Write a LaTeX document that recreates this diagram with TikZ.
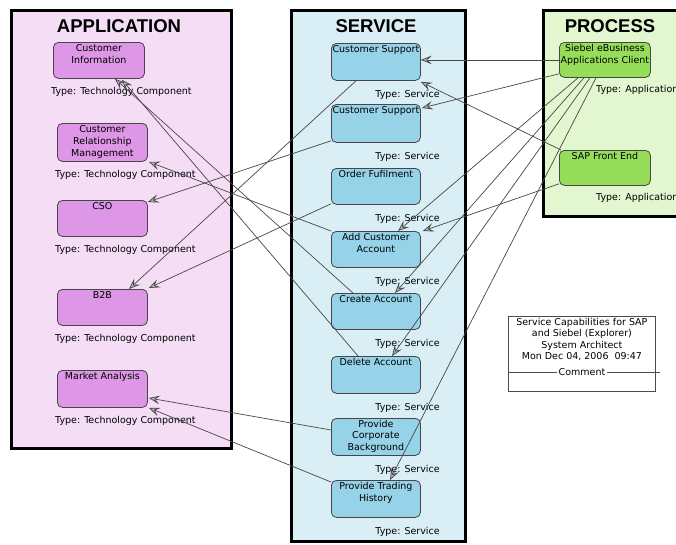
\documentclass[tikz,border=0pt]{standalone}
\usepackage{fontspec}
\setmainfont{DejaVu Sans}
\newfontfamily\titlefont{Liberation Sans}
\usetikzlibrary{arrows.meta,calc}
\definecolor{apppanel}{RGB}{245,221,245}
\definecolor{appnode}{RGB}{222,150,230}
\definecolor{srvpanel}{RGB}{218,238,246}
\definecolor{srvnode}{RGB}{150,210,232}
\definecolor{prcpanel}{RGB}{226,246,208}
\definecolor{prcnode}{RGB}{150,222,90}
\definecolor{nodeedge}{RGB}{70,70,70}
\tikzset{
  panel/.style={draw=black, line width=3pt},
  ttl/.style={font=\titlefont\bfseries\fontsize{18.5}{20}\selectfont},
  small/.style={font=\fontsize{9.5}{12}\selectfont},
  intext/.style={small, anchor=north, align=center, inner sep=0pt, yshift=-2pt},
  box/.style={draw=nodeedge, line width=0.8pt, rounded corners=5pt, anchor=north west, inner sep=0pt},
  appbox/.style={box, fill=appnode, minimum width=90pt},
  srvbox/.style={box, fill=srvnode, minimum width=89pt},
  prcbox/.style={box, fill=prcnode, minimum width=91pt},
  typelbl/.style={small, inner sep=0pt},
  conn/.style={draw=black!72, line width=0.7pt, -{Stealth[length=11pt, width=8.5pt, inset=4.5pt, fill=gray!60, line width=0.7pt]}},
}
\begin{document}
\begin{tikzpicture}[x=1pt,y=-1pt]
\path[use as bounding box, clip] (0,0) rectangle (676,544);
\fill[white] (0,0) rectangle (676,544);
% panels
\draw[panel, fill=apppanel] (11,10) rectangle (231,448);
\draw[panel, fill=srvpanel] (291,10) rectangle (465,541.5);
\draw[panel, fill=prcpanel] (543,10) rectangle (690,216);
\node[ttl] (tapp) at (119,26.5) {APPLICATION};
\node[ttl] (tsrv) at (376,26.5) {SERVICE};
\node[ttl] (tprc) at (610,26.5) {PROCESS};
% application nodes
\node[appbox, minimum width=91pt, minimum height=36pt, label={[intext]north:Customer\\Information}] (ci) at (53,42) {};
\node[appbox, minimum height=38pt, label={[intext]north:Customer\\Relationship\\Management}] (crm) at (57,123) {};
\node[appbox, minimum height=36pt, label={[intext]north:CSO}] (cso) at (57,200) {};
\node[appbox, minimum height=36pt, label={[intext]north:B2B}] (b2b) at (57,289) {};
\node[appbox, minimum height=37pt, label={[intext]north:Market Analysis}] (ma) at (57,370) {};
\foreach \n in {ci,crm,cso,b2b,ma}
  \node[typelbl, anchor=west] (t\n) at ($(\n.south west)+(-2,13.5)$) {Type: Technology\ Component};
% service nodes
\node[srvbox, minimum height=37pt, label={[intext]north:Customer Support}] (cs1) at (331,43) {};
\node[srvbox, minimum height=38pt, label={[intext]north:Customer Support}] (cs2) at (331,104) {};
\node[srvbox, minimum height=36pt, label={[intext]north:Order Fufilment}] (of) at (331,168) {};
\node[srvbox, minimum height=36pt, label={[intext]north:Add Customer\\Account}] (aca) at (331,231) {};
\node[srvbox, minimum height=36pt, label={[intext]north:Create Account}] (ca) at (331,293) {};
\node[srvbox, minimum height=37pt, label={[intext]north:Delete Account}] (da) at (331,356) {};
\node[srvbox, minimum height=37pt, label={[intext, font=\fontsize{9.5}{11.5}\selectfont]north:Provide\\Corporate\\Background}] (pcb) at (331,418) {};
\node[srvbox, minimum height=37pt, label={[intext]north:Provide Trading\\History}] (pth) at (331,480) {};
\foreach \n in {cs1,cs2,of,aca,ca,da,pcb,pth}
  \node[typelbl, anchor=east] (t\n) at ($(\n.south east)+(19,14.5)$) {Type: Service};
% process nodes
\node[prcbox, minimum height=35pt, label={[intext]north:Siebel eBusiness\\Applications Client}] (sieb) at (559,42) {};
\node[prcbox, minimum height=35pt, label={[intext]north:SAP Front End}] (sap) at (559,150) {};
\foreach \n in {sieb,sap}
  \node[typelbl, anchor=west] (t\n) at ($(\n.south west)+(37,12.5)$) {Type: Application};
% comment box
\node[draw=black!70, line width=0.8pt, anchor=north west, minimum width=147pt, minimum height=75pt, inner sep=0pt] (cmt) at (508,316) {};
\node[small, align=center, anchor=north, inner sep=0pt, yshift=-2pt, font=\fontsize{9.5}{11.5}\selectfont] (cmttxt) at (cmt.north) {Service Capabilities for SAP\\and Siebel (Explorer)\\System Architect\\Mon Dec 04, 2006\ \ 09:47};
\node[small, inner sep=2pt] (cmtlbl) at (582,372) {Comment};
\draw[black!70, line width=0.8pt] (cmt.west |- cmtlbl) -- (cmtlbl.west);
\draw[black!70, line width=0.8pt] (cmtlbl.east) -- ($(cmt.east |- cmtlbl)+(4,0)$);
% service -> application
\draw[conn] ($(cs1.south west)+(25,0)$) -- ($(b2b.north west)+(72,0)$);
\draw[conn] ($(cs2.south west)+(0,-2)$) -- ($(cso.north east)+(0,2)$);
\draw[conn] ($(of.south west)+(0,-1)$) -- ($(b2b.north east)+(1,-1)$);
\draw[conn] (aca.north west) -- ($(crm.south east)+(1,0)$);
\draw[conn] ($(ca.north west)+(22,0)$) -- ($(ci.south west)+(62,0)$);
\draw[conn] ($(da.north west)+(27,0)$) -- ($(ci.south west)+(69,1)$);
\draw[conn] ($(pcb.north west)+(0,12)$) -- ($(ma.north east)+(1,28)$);
\draw[conn] ($(pth.north west)+(0,2)$) -- ($(ma.south east)+(1,0)$);
% process -> service
\draw[conn] (sieb.west) -- (sieb.west -| cs1.east);
\draw[conn] ($(sieb.south west)+(0,-4)$) -- ($(cs2.north east)+(1,4)$);
\draw[conn] ($(sap.north west)+(2,0)$) -- ($(cs1.south east)+(0,1)$);
\draw[conn] ($(sap.south west)+(0,-2)$) -- ($(aca.north east)+(2,0)$);
\draw[conn] ($(sieb.south west)+(19,0)$) -- ($(aca.north west)+(67,0)$);
\draw[conn] ($(sieb.south west)+(25,0)$) -- ($(ca.north west)+(64,0)$);
\draw[conn] ($(sieb.south west)+(31,0)$) -- ($(da.north west)+(61,0)$);
\draw[conn] ($(sieb.south west)+(37,0)$) -- ($(pth.north west)+(59,0)$);
\end{tikzpicture}
\end{document}
